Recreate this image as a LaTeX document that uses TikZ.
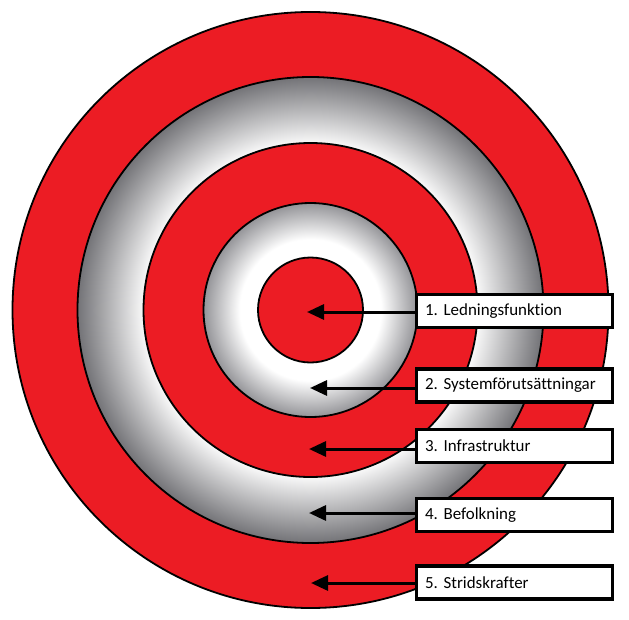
\documentclass[tikz,border=0pt]{standalone}
\usepackage{fontspec}
\setmainfont[Ligatures={NoCommon}]{Carlito}
\frenchspacing
\usetikzlibrary{arrows.meta}
\definecolor{tred}{RGB}{236,28,36}
\definecolor{gdark}{RGB}{115,115,119}
\definecolor{glight}{RGB}{148,148,152}
\pgfdeclareradialshading{ringfour}{\pgfpoint{0bp}{0bp}}{color(0bp)=(white); color(17.6bp)=(white); color(25bp)=(gdark); color(50bp)=(gdark)}
\pgfdeclareradialshading{ringtwo}{\pgfpoint{0bp}{0bp}}{color(0bp)=(white); color(16.5bp)=(white); color(25bp)=(glight); color(50bp)=(glight)}
\tikzset{
  disc/.style={draw=black, line width=1.8bp},
  reddisc/.style={disc, fill=tred},
  label box/.style={draw=black, line width=3.2bp, fill=white, rectangle,
    minimum width=196bp, minimum height=33bp, text width=178bp, inner xsep=8bp,
    align=left, anchor=west, font=\fontsize{17}{20}\selectfont},
  pointer/.style={draw=black, line width=3bp, -{Triangle[length=17bp, width=15bp]}}
}
\begin{document}
\begin{tikzpicture}[x=1bp, y=-1bp]
\useasboundingbox (0,0) rectangle (629,620);
\coordinate (c) at (310.5,310);
% target rings
\path[reddisc] (c) circle[radius=298bp];
\shade[disc, shading=ringfour] (c) circle[radius=233bp];
\path[reddisc] (c) circle[radius=167bp];
\shade[disc, shading=ringtwo] (c) circle[radius=107bp];
\path[reddisc] (c) circle[radius=52.5bp];
% label boxes
\node[label box] (b1) at (414.5,311) {1. Ledningsfunktion};
\node[label box] (b2) at (414.5,385.5) {2. Systemförutsättningar};
\node[label box] (b3) at (414.5,446) {3. Infrastruktur};
\node[label box] (b4) at (414.5,515) {4. Befolkning};
\node[label box] (b5) at (414.5,582.5) {5. Stridskrafter};
% arrow tips
\coordinate (t1) at (307,312);
\coordinate (t2) at (310,388);
\coordinate (t3) at (309,449);
\coordinate (t4) at (309,513);
\coordinate (t5) at (311,583);
\draw[pointer] (t1 -| b1.west) -- (t1);
\draw[pointer] (t2 -| b2.west) -- (t2);
\draw[pointer] (t3 -| b3.west) -- (t3);
\draw[pointer] (t4 -| b4.west) -- (t4);
\draw[pointer] (t5 -| b5.west) -- (t5);
\end{tikzpicture}
\end{document}
